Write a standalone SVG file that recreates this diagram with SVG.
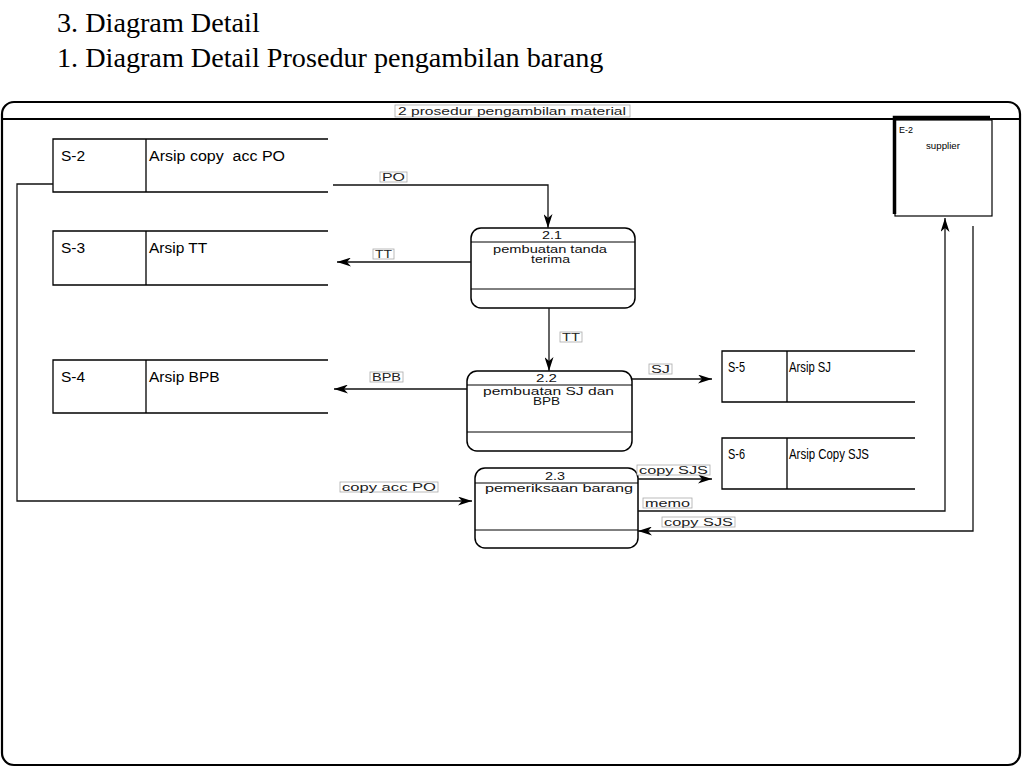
<svg xmlns="http://www.w3.org/2000/svg" width="1024" height="768" viewBox="0 0 1024 768">
<defs>
<marker id="ah" viewBox="0 0 14 9" refX="14" refY="4.5" markerWidth="14" markerHeight="9" markerUnits="userSpaceOnUse" orient="auto">
<path d="M0,0 L14,4.5 L0,9 L4,4.5 Z" fill="#000"/>
</marker>
</defs>
<style>
.hdr{font-family:"Liberation Serif","Times New Roman",serif;font-size:28.2px;fill:#000}
.st{font-family:"Liberation Sans",Arial,sans-serif;font-size:15.5px;fill:#000}
.stn{font-family:"Liberation Sans",Arial,sans-serif;font-size:14px;fill:#000}
.pt{font-family:"Liberation Sans",Arial,sans-serif;font-size:10.5px;fill:#111}
.lb{font-family:"Liberation Sans",Arial,sans-serif;font-size:10px;fill:#222}
.lbox{fill:#fff;stroke:#aaa;stroke-width:0.8}
.ln{fill:none;stroke:#000;stroke-width:1.3}
.cn{fill:none;stroke:#111;stroke-width:1.3}
.proc{fill:#fff;stroke:#000;stroke-width:1.5}
</style>
<rect width="1024" height="768" fill="#fff"/>
<text class="hdr" x="57" y="32">3. Diagram Detail</text>
<text class="hdr" x="57" y="67">1. Diagram Detail Prosedur pengambilan barang</text>

<g id="frame">
<rect x="2" y="102" width="1018" height="663" rx="12" fill="none" stroke="#000" stroke-width="2.2"/>
<line x1="2" y1="119" x2="1020" y2="119" stroke="#000" stroke-width="2"/>
<rect class="lbox" x="395" y="105" width="235" height="12"/>
<text class="lb" x="398" y="115" textLength="228" lengthAdjust="spacingAndGlyphs">2 prosedur pengambilan material</text>
</g>

<g id="E-2">
<rect x="895" y="120" width="97" height="96" fill="#fff" stroke="#000" stroke-width="1.2"/>
<path d="M894.5,214 V117.5 H990" fill="none" stroke="#000" stroke-width="3.5"/>
<text x="899" y="133" font-family="Liberation Sans,Arial,sans-serif" font-size="9.5" textLength="14" lengthAdjust="spacingAndGlyphs">E-2</text>
<text x="926" y="149" font-family="Liberation Sans,Arial,sans-serif" font-size="9.5" textLength="34" lengthAdjust="spacingAndGlyphs">supplier</text>
</g>

<g id="S-2">
<path class="ln" d="M328,139 H53 V192 H328 M146,139 V192"/>
<text class="st" x="61" y="161">S-2</text>
<text class="st" x="149" y="161" textLength="136" lengthAdjust="spacingAndGlyphs">Arsip copy&#160; acc PO</text>
</g>
<g id="S-3">
<path class="ln" d="M328,231 H53 V285 H328 M146,231 V285"/>
<text class="st" x="61" y="253">S-3</text>
<text class="st" x="149" y="253">Arsip TT</text>
</g>
<g id="S-4">
<path class="ln" d="M328,360 H53 V413 H328 M146,360 V413"/>
<text class="st" x="61" y="382">S-4</text>
<text class="st" x="149" y="382">Arsip BPB</text>
</g>
<g id="S-5">
<path class="ln" d="M915,351 H722 V402 H915 M787,351 V402"/>
<text class="stn" x="728" y="372" textLength="17" lengthAdjust="spacingAndGlyphs">S-5</text>
<text class="stn" x="789" y="372" textLength="42" lengthAdjust="spacingAndGlyphs">Arsip SJ</text>
</g>
<g id="S-6">
<path class="ln" d="M915,438 H722 V489 H915 M787,438 V489"/>
<text class="stn" x="728" y="459" textLength="17" lengthAdjust="spacingAndGlyphs">S-6</text>
<text class="stn" x="789" y="459" textLength="80" lengthAdjust="spacingAndGlyphs">Arsip Copy SJS</text>
</g>

<g id="P-2.1">
<rect class="proc" x="471" y="228" width="164" height="80" rx="10"/>
<line x1="471" y1="242" x2="635" y2="242" stroke="#000" stroke-width="1"/>
<line x1="471" y1="289" x2="635" y2="289" stroke="#000" stroke-width="1"/>
<text class="pt" x="542" y="239" textLength="20" lengthAdjust="spacingAndGlyphs">2.1</text>
<text class="pt" x="493" y="253" textLength="114" lengthAdjust="spacingAndGlyphs">pembuatan tanda</text>
<text class="pt" x="531" y="263" textLength="39" lengthAdjust="spacingAndGlyphs">terima</text>
</g>
<g id="P-2.2">
<rect class="proc" x="467" y="371" width="165" height="80" rx="10"/>
<line x1="467" y1="385" x2="632" y2="385" stroke="#000" stroke-width="1"/>
<line x1="467" y1="432" x2="632" y2="432" stroke="#000" stroke-width="1"/>
<text class="pt" x="536" y="382" textLength="21" lengthAdjust="spacingAndGlyphs">2.2</text>
<text class="pt" x="483" y="395" textLength="131" lengthAdjust="spacingAndGlyphs">pembuatan SJ dan</text>
<text class="pt" x="533" y="405" textLength="27" lengthAdjust="spacingAndGlyphs">BPB</text>
</g>
<g id="P-2.3">
<rect class="proc" x="475" y="468" width="163" height="80" rx="10"/>
<line x1="475" y1="483" x2="638" y2="483" stroke="#000" stroke-width="1"/>
<line x1="475" y1="530" x2="638" y2="530" stroke="#000" stroke-width="1"/>
<text class="pt" x="545" y="480" textLength="20" lengthAdjust="spacingAndGlyphs">2.3</text>
<text class="pt" x="485" y="492" textLength="148" lengthAdjust="spacingAndGlyphs">pemeriksaan barang</text>
</g>

<g id="connectors">
<path class="cn" d="M333,185 H548 V228" marker-end="url(#ah)"/>
<path class="cn" d="M471,262 H337" marker-end="url(#ah)"/>
<path class="cn" d="M549,308 V371" marker-end="url(#ah)"/>
<path class="cn" d="M467,389 H334" marker-end="url(#ah)"/>
<path class="cn" d="M632,379 H712" marker-end="url(#ah)"/>
<path class="cn" d="M53,184 H17 V501 H472" marker-end="url(#ah)"/>
<path class="cn" d="M638,479 H712" marker-end="url(#ah)"/>
<path class="cn" d="M638,511 H945 V218" marker-end="url(#ah)"/>
<path class="cn" d="M973,226 V531 H638" marker-end="url(#ah)"/>

<rect class="lbox" x="380" y="172" width="27" height="10"/>
<text class="lb" x="382" y="181" textLength="23" lengthAdjust="spacingAndGlyphs">PO</text>
<rect class="lbox" x="373" y="249" width="21" height="10"/>
<text class="lb" x="375" y="258" textLength="17" lengthAdjust="spacingAndGlyphs">TT</text>
<rect class="lbox" x="560" y="332" width="22" height="10"/>
<text class="lb" x="562" y="341" textLength="18" lengthAdjust="spacingAndGlyphs">TT</text>
<rect class="lbox" x="370" y="372" width="33" height="10"/>
<text class="lb" x="372" y="381" textLength="29" lengthAdjust="spacingAndGlyphs">BPB</text>
<rect class="lbox" x="649" y="364" width="23" height="10"/>
<text class="lb" x="651" y="373" textLength="19" lengthAdjust="spacingAndGlyphs">SJ</text>
<rect class="lbox" x="340" y="482" width="98" height="10"/>
<text class="lb" x="342" y="491" textLength="94" lengthAdjust="spacingAndGlyphs">copy acc PO</text>
<rect class="lbox" x="637" y="465" width="73" height="10"/>
<text class="lb" x="639" y="474" textLength="69" lengthAdjust="spacingAndGlyphs">copy SJS</text>
<rect class="lbox" x="643" y="498" width="49" height="10"/>
<text class="lb" x="645" y="507" textLength="45" lengthAdjust="spacingAndGlyphs">memo</text>
<rect class="lbox" x="662" y="517" width="73" height="10"/>
<text class="lb" x="664" y="526" textLength="69" lengthAdjust="spacingAndGlyphs">copy SJS</text>
</g>
</svg>
